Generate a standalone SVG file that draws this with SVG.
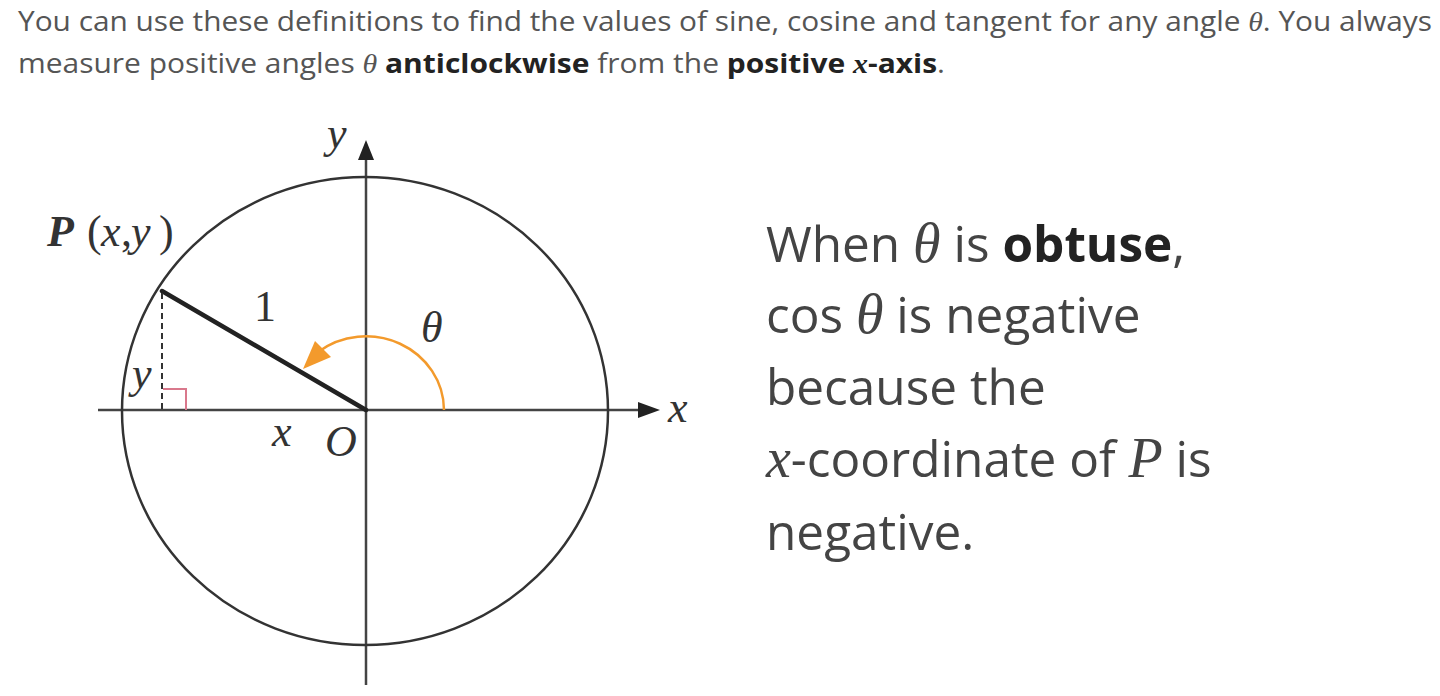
<svg xmlns="http://www.w3.org/2000/svg" width="1440" height="696" viewBox="0 0 1440 696">
<style>
.intro{font-family:"Open Sans","Liberation Sans",sans-serif;font-size:27px;fill:#555}
.b{font-weight:bold;fill:#222}
.m{font-family:"Liberation Serif","DejaVu Serif",serif;font-style:italic}
.side{font-family:"Open Sans","Liberation Sans",sans-serif;font-size:49.5px;fill:#444}
.side .m{font-size:56px}
.lbl{font-family:"Liberation Serif","DejaVu Serif",serif;font-size:44px;fill:#333}
.it{font-style:italic}
.ax{stroke:#444;stroke-width:2.5;fill:none}
</style>
<rect width="1440" height="696" fill="#fff"/>
<g id="intro">
<text class="intro" x="18" y="31" textLength="1414" lengthAdjust="spacingAndGlyphs">You can use these definitions to find the values of sine, cosine and tangent for any angle <tspan class="m">θ</tspan>. You always</text>
<text class="intro" x="18" y="73" textLength="927" lengthAdjust="spacingAndGlyphs">measure positive angles <tspan class="m">θ</tspan> <tspan class="b">anticlockwise</tspan> from the <tspan class="b">positive <tspan class="m">x</tspan>-axis</tspan>.</text>
</g>
<g id="axes">
<line class="ax" x1="98" y1="410" x2="645" y2="410"/>
<polygon points="660,410 638,402 638,418" fill="#222"/>
<line class="ax" x1="366" y1="685" x2="366" y2="155"/>
<polygon points="366,140 358,160 374,160" fill="#222"/>
</g>
<g id="circle">
<ellipse cx="365" cy="411" rx="243" ry="234" fill="none" stroke="#333" stroke-width="2.5"/>
</g>
<g id="radius">
<line x1="162" y1="291" x2="366" y2="410" stroke="#222" stroke-width="4.5" stroke-linecap="round"/>
<line x1="162" y1="293" x2="162" y2="410" stroke="#333" stroke-width="2" stroke-dasharray="6,4"/>
<polyline points="163,389 186,389 186,410" fill="none" stroke="#d9788c" stroke-width="2"/>
</g>
<g id="angle">
<path d="M444,410 A78,74 0 0 0 318,352" fill="none" stroke="#f39a2c" stroke-width="2.5"/>
<polygon points="303,369 315,341 331,357" fill="#f39a2c"/>
</g>
<g id="labels">
<text class="lbl it" x="327" y="148">y</text>
<text class="lbl" y="246"><tspan class="it" font-weight="bold" x="47">P</tspan><tspan x="87">(</tspan><tspan class="it" x="101">x</tspan><tspan x="121">,</tspan><tspan class="it" x="131">y</tspan><tspan x="159">)</tspan></text>
<text class="lbl" x="254" y="321">1</text>
<text class="lbl it" x="421" y="342">θ</text>
<text class="lbl it" x="132" y="388" font-size="40">y</text>
<text class="lbl it" x="272" y="446">x</text>
<text class="lbl it" x="325" y="456">O</text>
<text class="lbl it" x="668" y="422">x</text>
</g>
<g id="explanation">
<text class="side" x="766" y="262">When <tspan class="m">θ</tspan> is <tspan class="b">obtuse</tspan>,</text>
<text class="side" x="766" y="333">cos <tspan class="m">θ</tspan> is negative</text>
<text class="side" x="766" y="405">because the</text>
<text class="side" x="766" y="477"><tspan class="m">x</tspan>-coordinate of <tspan class="m">P</tspan> is</text>
<text class="side" x="766" y="550">negative.</text>
</g>
</svg>
